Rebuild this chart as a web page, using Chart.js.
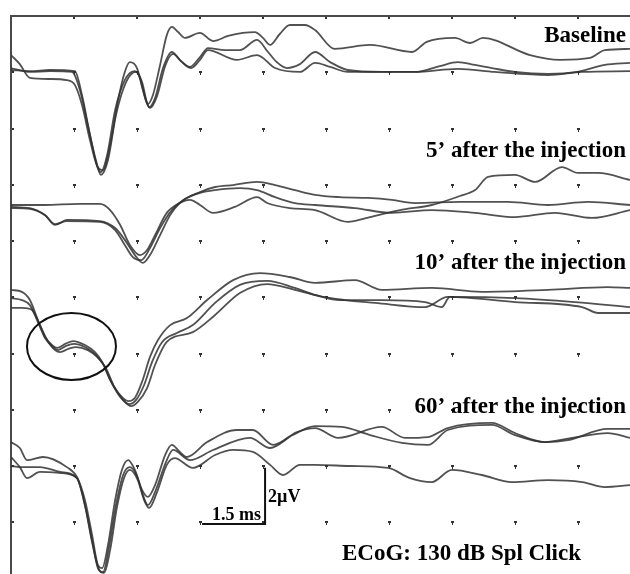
<!DOCTYPE html>
<html>
<head>
<meta charset="utf-8">
<script src="https://cdn.jsdelivr.net/npm/chart.js@4"></script>
<style>
  html, body { margin: 0; padding: 0; background: #fff; overflow: hidden; }
  canvas { display: block; }
</style>
</head>
<body>
<canvas id="ecogChart" width="630" height="574"></canvas>
<script>
// time in ms, potential in µV (traces stacked from the top edge)
const xTicks = [1.5, 3, 4.5, 6, 7.5, 9, 10.5, 12, 13.5];
const yTicks = [-2, -4, -6, -8, -10, -12, -14, -16, -18];

const labels = ['Baseline', '5’ after the injection', '10’ after the injection', '60’ after the injection'];

// Baseline
const base1 = [[0,-1.39],[0.21,-1.71],[0.45,-2.20],[0.93,-2.24],[1.33,-2.28],[1.52,-2.45],[1.69,-3.16],[1.88,-4.41],[2.05,-5.33],[2.19,-5.48],[2.36,-4.59],[2.55,-2.99],[2.71,-1.99],[2.83,-1.64],[3.0,-1.85],[3.14,-2.63],[3.26,-3.13],[3.38,-2.81],[3.55,-1.74],[3.71,-0.68],[3.83,-0.39],[3.98,-0.57],[4.14,-0.78],[4.50,-0.60],[4.81,-0.89],[5.17,-0.71],[5.52,-0.60],[5.81,-0.57],[6.0,-0.78],[6.17,-1.03],[6.40,-0.64],[6.64,-0.32],[7.0,-0.32],[7.24,-0.50],[7.71,-1.17],[8.55,-1.03],[9.55,-1.28],[9.90,-0.92],[10.57,-0.78],[10.93,-0.96],[11.24,-0.78],[12.36,-1.39],[13.07,-1.56],[13.79,-1.49],[14.14,-1.21],[14.74,-1.17]];
const base2 = [[0,-1.92],[0.45,-1.96],[0.93,-1.92],[1.52,-1.96],[1.69,-2.81],[1.88,-4.23],[2.05,-5.33],[2.14,-5.55],[2.29,-4.94],[2.48,-3.34],[2.71,-2.28],[2.95,-1.96],[3.07,-2.20],[3.21,-2.99],[3.29,-3.24],[3.43,-2.92],[3.62,-1.85],[3.83,-1.28],[4.02,-1.56],[4.26,-1.81],[4.50,-1.46],[4.69,-1.14],[5.10,-1.21],[5.45,-1.21],[5.86,-0.85],[6.12,-1.28],[6.33,-1.64],[6.57,-1.85],[6.88,-1.71],[7.24,-1.28],[7.60,-1.64],[8.02,-1.92],[8.83,-1.99],[9.62,-1.99],[10.21,-1.78],[10.64,-1.64],[11.05,-1.74],[11.45,-1.85],[12.0,-1.99],[12.79,-2.06],[13.48,-1.99],[14.14,-1.74],[14.74,-1.67]];
const base3 = [[0,-1.85],[0.45,-1.99],[0.93,-1.96],[1.45,-1.99],[1.64,-2.63],[1.83,-3.88],[2.02,-5.12],[2.14,-5.65],[2.31,-5.12],[2.50,-3.52],[2.74,-2.35],[2.98,-1.99],[3.12,-2.35],[3.24,-3.09],[3.31,-3.27],[3.48,-2.84],[3.67,-1.78],[3.86,-1.35],[4.07,-1.64],[4.29,-1.85],[4.50,-1.56],[4.69,-1.21],[5.38,-1.56],[5.86,-1.39],[6.29,-1.85],[6.88,-1.99],[7.24,-1.67],[7.60,-1.81],[8.02,-1.99],[8.83,-1.99],[9.62,-1.99],[10.64,-1.88],[11.52,-1.99],[12.79,-2.10],[13.60,-1.99],[14.74,-1.96]];

// 5' after the injection
const min5a = [[0,-6.72],[0.79,-6.72],[1.64,-6.68],[2.12,-6.68],[2.36,-6.90],[2.60,-7.43],[2.83,-8.14],[3.07,-8.50],[3.24,-8.32],[3.43,-7.79],[3.71,-7.00],[4.02,-6.65],[4.26,-6.54],[4.50,-6.72],[4.81,-7.00],[5.33,-6.79],[5.86,-6.44],[6.10,-6.65],[6.64,-6.83],[7.24,-6.90],[8.02,-7.32],[8.55,-7.15],[9.26,-6.90],[10.02,-6.72],[10.69,-6.40],[11.05,-6.19],[11.36,-5.72],[12.0,-5.65],[12.48,-5.90],[13.12,-5.37],[13.50,-5.58],[13.98,-5.58],[14.74,-5.83]];
const min5b = [[0,-6.79],[0.45,-6.83],[0.81,-7.08],[1.05,-7.43],[1.33,-7.25],[2.12,-7.29],[2.48,-7.54],[2.71,-7.96],[2.95,-8.50],[3.14,-8.78],[3.31,-8.50],[3.55,-7.79],[3.79,-7.08],[4.02,-6.65],[4.50,-6.26],[4.86,-6.08],[5.29,-6.01],[5.86,-5.90],[6.29,-6.01],[6.76,-6.19],[7.24,-6.36],[7.83,-6.44],[8.50,-6.47],[9.07,-6.54],[9.62,-6.65],[10.69,-6.61],[11.83,-6.61],[12.79,-6.72],[13.74,-6.61],[14.74,-6.72]];
const min5c = [[0,-6.83],[0.45,-6.86],[0.81,-7.08],[1.05,-7.40],[1.33,-7.29],[2.12,-7.32],[2.48,-7.61],[2.71,-8.14],[2.90,-8.57],[3.10,-8.68],[3.31,-8.25],[3.55,-7.54],[3.83,-6.90],[4.14,-6.51],[4.50,-6.29],[4.86,-6.19],[5.45,-6.12],[5.86,-6.19],[6.29,-6.44],[6.76,-6.65],[7.24,-6.72],[8.19,-6.83],[9.07,-7.00],[10.02,-6.90],[11.05,-7.00],[12.0,-7.15],[12.95,-7.00],[13.83,-7.18],[14.74,-6.90]];

// 10' after the injection
const min10a = [[0,-9.74],[0.26,-9.81],[0.45,-10.10],[0.64,-10.81],[0.81,-11.41],[0.98,-11.70],[1.10,-11.80],[1.29,-11.66],[1.48,-11.56],[1.76,-11.70],[2.0,-11.95],[2.17,-12.30],[2.36,-12.94],[2.60,-13.48],[2.79,-13.69],[2.95,-13.58],[3.12,-13.01],[3.31,-12.12],[3.50,-11.52],[3.79,-10.99],[4.19,-10.74],[4.67,-10.10],[5.29,-9.39],[5.93,-9.14],[6.64,-9.28],[7.24,-9.49],[8.19,-9.39],[8.83,-9.74],[10.02,-9.67],[11.21,-9.81],[12.79,-9.74],[14.21,-9.64],[14.74,-9.67]];
const min10b = [[0,-10.03],[0.26,-10.10],[0.45,-10.28],[0.64,-10.88],[0.81,-11.45],[1.0,-11.77],[1.12,-11.88],[1.31,-11.73],[1.50,-11.66],[1.76,-11.77],[2.0,-12.02],[2.21,-12.41],[2.40,-13.05],[2.62,-13.58],[2.81,-13.80],[2.98,-13.65],[3.17,-13.12],[3.36,-12.30],[3.60,-11.59],[3.95,-11.27],[4.33,-10.99],[4.86,-10.20],[5.45,-9.56],[6.10,-9.42],[6.76,-9.67],[7.24,-9.92],[7.95,-10.10],[8.67,-10.20],[9.86,-10.35],[10.40,-9.99],[12.0,-10.17],[13.60,-10.35],[13.98,-10.56],[14.74,-10.56]];
const min10c = [[0,-10.38],[0.26,-10.38],[0.50,-10.45],[0.69,-10.99],[0.86,-11.52],[1.05,-11.88],[1.17,-11.95],[1.36,-11.84],[1.55,-11.77],[1.83,-11.88],[2.05,-12.12],[2.26,-12.52],[2.45,-13.16],[2.67,-13.65],[2.86,-13.87],[3.02,-13.72],[3.24,-13.23],[3.43,-12.41],[3.71,-11.59],[4.33,-11.24],[4.86,-10.63],[5.45,-9.85],[6.10,-9.53],[6.76,-9.74],[7.24,-9.92],[7.83,-10.10],[8.83,-10.10],[9.86,-10.17],[10.26,-10.35],[10.45,-9.99],[12.0,-10.03],[13.43,-10.17],[14.74,-10.35]];

// 60' after the injection
const min60a = [[0,-15.15],[0.21,-15.36],[0.38,-15.79],[0.76,-15.68],[1.33,-16.04],[1.57,-16.39],[1.76,-17.21],[1.93,-18.45],[2.07,-19.52],[2.17,-19.63],[2.31,-18.81],[2.48,-17.21],[2.64,-16.14],[2.79,-15.79],[2.95,-16.14],[3.12,-16.85],[3.26,-17.10],[3.43,-16.68],[3.67,-15.61],[3.83,-15.25],[4.02,-15.50],[4.19,-15.68],[4.67,-15.15],[5.38,-14.72],[5.76,-14.72],[6.24,-15.25],[6.81,-14.79],[7.24,-14.65],[7.79,-15.00],[8.83,-14.61],[9.38,-15.00],[9.93,-14.97],[10.40,-14.65],[11.45,-14.47],[12.0,-14.83],[12.71,-15.15],[13.26,-15.08],[14.21,-14.68],[14.74,-14.68]];
const min60b = [[0,-15.68],[0.21,-16.04],[0.38,-16.43],[0.69,-16.21],[1.17,-16.25],[1.57,-16.43],[1.76,-17.39],[1.93,-18.63],[2.07,-19.63],[2.19,-19.77],[2.33,-18.92],[2.50,-17.39],[2.67,-16.32],[2.83,-16.04],[3.0,-16.36],[3.14,-17.03],[3.26,-17.39],[3.45,-16.85],[3.69,-15.86],[3.86,-15.43],[4.26,-15.79],[4.81,-15.43],[5.69,-15.00],[6.17,-15.36],[6.71,-14.90],[7.24,-14.58],[7.88,-14.61],[8.55,-14.90],[9.31,-15.18],[9.93,-15.25],[10.40,-14.72],[11.45,-14.54],[12.0,-14.90],[12.71,-15.15],[13.36,-15.00],[14.21,-14.83],[14.74,-15.00]];
const min60c = [[0,-16.00],[0.21,-16.04],[0.69,-16.04],[1.17,-16.21],[1.57,-16.43],[1.76,-17.39],[1.93,-18.70],[2.10,-19.70],[2.21,-19.80],[2.36,-18.99],[2.52,-17.49],[2.69,-16.43],[2.83,-16.14],[3.02,-16.50],[3.17,-17.21],[3.29,-17.49],[3.48,-16.92],[3.71,-15.96],[3.90,-15.72],[4.33,-16.07],[4.86,-15.61],[5.29,-15.43],[5.76,-15.50],[6.17,-15.96],[6.48,-16.32],[6.88,-15.96],[7.24,-15.96],[8.07,-16.00],[8.98,-16.07],[9.50,-16.43],[10.02,-16.57],[10.50,-16.14],[11.21,-16.32],[11.93,-16.57],[12.79,-16.50],[13.60,-16.57],[14.14,-16.75],[14.74,-16.68]];

const traces = [base1, base2, base3, min5a, min5b, min5c, min10a, min10b, min10c, min60a, min60b, min60c];

// scale bar corner (ms, µV) and the circled notch (ms, µV, half widths)
const scaleBar = { t: 6.05, v: -18.06, dt: 1.5, dv: 2 };
const notch = { t: 1.44, v: -11.75, rt: 1.06, rv: 1.19 };

const decorPlugin = {
    id: 'decor',
    beforeDatasetsDraw(chart) {
        const { ctx, chartArea: a, scales: { x, y } } = chart;
        ctx.save();
        ctx.fillStyle = '#333';
        // small grid marks, a little "T" at every crossing
        xTicks.forEach(tx => {
            const px = Math.round(x.getPixelForValue(tx));
            yTicks.forEach(ty => {
                const py = Math.round(y.getPixelForValue(ty));
                ctx.fillRect(px - 1, py - 1, 3, 2);
                ctx.fillRect(px, py + 1, 1, 2);
            });
            ctx.fillRect(px - 1, a.top, 2, 3);
        });
        yTicks.forEach(ty => {
            const py = Math.round(y.getPixelForValue(ty));
            ctx.fillRect(a.left, py - 1, 3, 2);
        });
        // frame on top and left
        ctx.lineWidth = 2;
        ctx.strokeStyle = '#4a4a4a';
        ctx.beginPath();
        ctx.moveTo(a.right + 5, a.top);
        ctx.lineTo(a.left, a.top);
        ctx.lineTo(a.left, a.bottom + 5);
        ctx.stroke();
        ctx.restore();
    },
    afterDatasetsDraw(chart) {
        const { ctx, scales: { x, y } } = chart;
        ctx.save();
        ctx.fillStyle = '#000';
        ctx.font = 'bold 23px "Liberation Serif", serif';
        ctx.textAlign = 'right';
        ctx.textBaseline = 'alphabetic';
        [42, 157, 269, 413].forEach((by, i) => ctx.fillText(labels[i], 626, by));
        ctx.textAlign = 'left';
        ctx.fillText('ECoG: 130 dB Spl Click', 342, 560);

        // scale bar
        const cx = x.getPixelForValue(scaleBar.t);
        const cy = y.getPixelForValue(scaleBar.v);
        const lx = x.getPixelForValue(scaleBar.t - scaleBar.dt);
        const ty = y.getPixelForValue(scaleBar.v + scaleBar.dv);
        ctx.strokeStyle = '#111';
        ctx.lineWidth = 2;
        ctx.beginPath();
        ctx.moveTo(lx, cy); ctx.lineTo(cx, cy); ctx.lineTo(cx, ty);
        ctx.stroke();
        ctx.font = 'bold 18px "Liberation Serif", serif';
        ctx.textAlign = 'right';
        ctx.fillText('1.5 ms', cx - 4, cy - 4);
        ctx.textAlign = 'left';
        ctx.fillText('2µV', cx + 3, (cy + ty) / 2 + 6);

        // circled notch
        const ex = x.getPixelForValue(notch.t);
        const ey = y.getPixelForValue(notch.v);
        const rx = x.getPixelForValue(notch.t + notch.rt) - ex;
        const ry = ey - y.getPixelForValue(notch.v + notch.rv);
        ctx.lineWidth = 2;
        ctx.beginPath();
        ctx.ellipse(ex, ey, rx, ry, 0, 0, Math.PI * 2);
        ctx.stroke();
        ctx.restore();
    }
};

const ctx = document.getElementById('ecogChart').getContext('2d');
const ecogChart = new Chart(ctx, {
    type: 'line',
    data: {
        datasets: traces.map(tr => ({
            data: tr,
            borderColor: 'rgba(50, 50, 50, 0.85)',
            borderWidth: 1.8,
            pointRadius: 0,
            cubicInterpolationMode: 'monotone',
            fill: false
        }))
    },
    options: {
        responsive: false,
        animation: false,
        devicePixelRatio: 1,
        layout: { padding: { left: 11, top: 16, right: 0, bottom: 0 } },
        scales: {
            x: { type: 'linear', min: 0, max: 14.74, display: false },
            y: { type: 'linear', min: -19.84, max: 0, display: false }
        },
        plugins: {
            legend: { display: false },
            tooltip: { enabled: false }
        }
    },
    plugins: [decorPlugin]
});
</script>
</body>
</html>
